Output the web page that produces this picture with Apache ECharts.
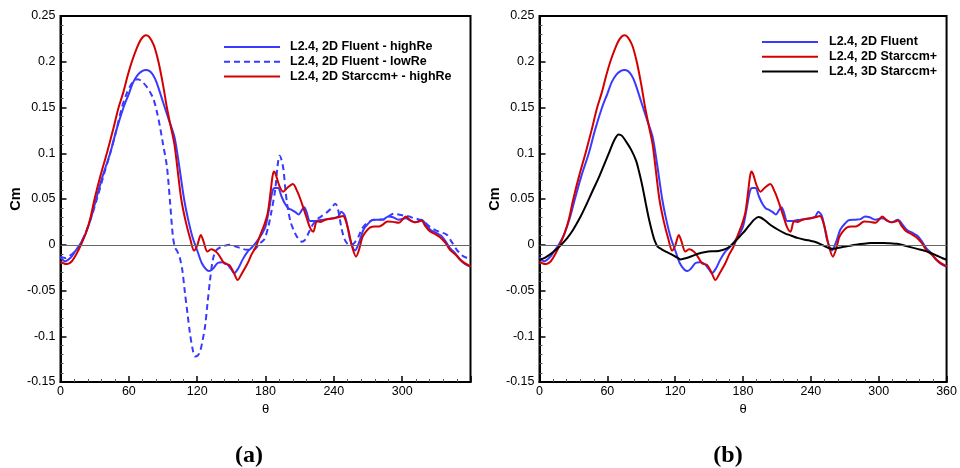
<!DOCTYPE html>
<html>
<head>
<meta charset="utf-8">
<script src="https://cdn.jsdelivr.net/npm/echarts@6/dist/echarts.min.js"></script>
<style>
html,body{margin:0;padding:0;background:#fff;}
#c{width:960px;height:468px;}
</style>
</head>
<body>
<div id="c"></div>
<script>
// ---- tick labels ----
var xTicks = [0, 60, 120, 180, 240, 300, 360];
var yTicks = [-0.15, -0.1, -0.05, 0, 0.05, 0.1, 0.15, 0.2, 0.25];

// ---- legend names ----
var namesA = ['L2.4, 2D Fluent - highRe', 'L2.4, 2D Fluent - lowRe', 'L2.4, 2D Starccm+ - highRe'];
var namesB = ['L2.4, 2D Fluent', 'L2.4, 2D Starccm+', 'L2.4, 3D Starccm+'];

// ---- series values [theta, Cm] ----
var fluentHigh = [[0,-0.0135],[4,-0.018],[9,-0.014],[13,-0.007],[17,0],[22,0.012],[27,0.03],[31.3,0.05],[37,0.075],[43.6,0.1],[49,0.125],[55.3,0.15],[60,0.165],[64,0.178],[68,0.186],[72,0.19],[75,0.191],[78,0.19],[81,0.186],[84.5,0.177],[90,0.156],[95,0.137],[100,0.118],[104,0.088],[108.5,0.05],[112,0.028],[116,0.008],[120,-0.006],[124,-0.02],[128,-0.027],[131,-0.0288],[134,-0.026],[138,-0.02],[142,-0.019],[146,-0.021],[150,-0.027],[152.5,-0.031],[156,-0.026],[160,-0.016],[164,-0.008],[168,-0.003],[172,0.003],[176,0.01],[180,0.02],[183,0.038],[186,0.058],[188,0.062],[191,0.062],[194,0.053],[197,0.045],[200,0.04],[203,0.038],[206,0.036],[209,0.033],[212,0.038],[214,0.041],[216,0.036],[219,0.026],[223,0.026],[228,0.027],[234,0.028],[240,0.029],[244,0.031],[246.5,0.036],[249.5,0.032],[252,0.02],[254.3,0.0055],[258.7,-0.0062],[262,0.002],[266,0.0164],[270,0.023],[274,0.027],[280,0.0274],[284,0.028],[288,0.031],[292,0.03],[297,0.0274],[303,0.029],[308,0.026],[311.5,0.0245],[317,0.0274],[321,0.022],[325,0.016],[330,0.013],[334,0.01],[338,0.004],[342,-0.0036],[347,-0.01],[351,-0.0164],[355,-0.021],[360,-0.024]];

var fluentLow = [[0,-0.0128],[4,-0.0146],[8,-0.012],[12,-0.008],[17,0],[22,0.013],[27,0.03],[32,0.05],[37,0.072],[43.6,0.1],[48,0.12],[53.9,0.15],[58,0.165],[62,0.175],[65,0.18],[68,0.181],[71,0.179],[75.8,0.1726],[79,0.166],[81.7,0.159],[84.5,0.146],[87.5,0.128],[90,0.11],[93.4,0.0858],[96.3,0.045],[98.6,0.01],[100.5,-0.003],[102.5,-0.007],[104.9,-0.015],[107,-0.028],[109.3,-0.053],[111.5,-0.075],[113.7,-0.097],[116,-0.114],[118.1,-0.122],[120.5,-0.121],[122.5,-0.117],[124.7,-0.105],[126.9,-0.0896],[129,-0.065],[131.3,-0.0386],[134,-0.015],[137.1,-0.0057],[142,-0.002],[148.8,0],[154,-0.002],[158,-0.0036],[163.5,-0.0055],[169.5,-0.0055],[175.2,0.0017],[179,0.006],[182.5,0.02],[185,0.035],[188.5,0.06],[190.5,0.085],[192.3,0.0974],[194,0.093],[195.8,0.082],[197.5,0.06],[199.3,0.042],[202,0.025],[204.6,0.0164],[208,0.008],[211.8,0.0034],[214.5,0.005],[217.8,0.0128],[221,0.021],[225,0.0274],[229,0.031],[233.9,0.0354],[238,0.04],[241.2,0.0449],[243,0.042],[245,0.03],[247,0.0164],[249.5,0.006],[252,0.001],[254.2,0],[257.3,0.001],[261.7,0.009],[264,0.016],[267.5,0.0219],[271,0.025],[274.8,0.0274],[283.6,0.0274],[288,0.031],[292.4,0.034],[297,0.033],[301.2,0.0318],[306,0.031],[310,0.029],[314,0.028],[318.8,0.0255],[323,0.021],[327.5,0.0172],[333,0.014],[339.2,0.011],[344,0.002],[348,-0.0055],[352,-0.011],[356,-0.014],[360,-0.0146]];

var starHigh = [[0,-0.018],[3,-0.0205],[6,-0.021],[10,-0.018],[14,-0.01],[18,0],[22,0.012],[26,0.028],[29.9,0.05],[35,0.075],[40.7,0.1],[46,0.125],[51,0.15],[55,0.166],[59,0.185],[62.6,0.2],[67,0.215],[71,0.225],[75,0.229],[78,0.227],[82,0.218],[86,0.2],[90,0.175],[93.4,0.15],[97,0.128],[100,0.11],[103,0.08],[106,0.05],[110,0.025],[114,0.006],[117.3,-0.0064],[120,-0.001],[123.2,0.0107],[125.5,0.004],[129,-0.0075],[132.2,-0.005],[138,-0.0094],[143.8,-0.0203],[148.2,-0.022],[152,-0.03],[155.6,-0.0385],[159,-0.032],[164.3,-0.0203],[168,-0.01],[171.6,-0.002],[176,0.0125],[179,0.022],[182,0.035],[184.5,0.058],[186.2,0.075],[187.5,0.08],[189,0.077],[192,0.065],[195.5,0.058],[199,0.062],[204,0.0665],[208,0.058],[212,0.045],[216,0.03],[219,0.019],[222,0.0143],[225,0.0255],[228,0.025],[232,0.027],[236,0.0285],[240,0.029],[244,0.03],[248,0.0314],[250,0.028],[253,0.015],[256,-0.002],[259.5,-0.013],[262,-0.006],[265,0.008],[268,0.014],[272,0.019],[276,0.02],[280,0.02],[283,0.022],[287,0.0255],[292,0.025],[297,0.024],[300,0.027],[303,0.031],[307,0.027],[311,0.0245],[314,0.025],[317,0.0266],[320,0.021],[324,0.015],[329,0.0115],[333,0.0084],[338,0.002],[342,-0.0055],[347,-0.011],[351,-0.0164],[355,-0.02],[360,-0.0237]];

var star3D = [[0,-0.0164],[5,-0.014],[10,-0.01],[15,-0.005],[20,0.001],[25,0.008],[30,0.017],[36,0.03],[41.5,0.044],[47,0.059],[53,0.075],[58,0.09],[62,0.102],[66,0.114],[70,0.1204],[73,0.119],[77,0.112],[81,0.104],[85.4,0.092],[88,0.08],[91,0.064],[94,0.045],[97,0.027],[100,0.012],[102,0.004],[104.4,-0.002],[108,-0.005],[111.7,-0.0075],[117.5,-0.011],[121,-0.0135],[124.9,-0.016],[130,-0.0145],[135,-0.0123],[141,-0.0095],[146.8,-0.008],[152,-0.0072],[158.5,-0.0068],[162,-0.0058],[165.7,-0.004],[169,-0.001],[173,0.0034],[177,0.009],[181.9,0.0156],[186,0.022],[189.5,0.027],[193.6,0.0303],[196,0.0295],[199.5,0.0265],[205,0.021],[211,0.0164],[217,0.0125],[222.8,0.0099],[228,0.0075],[234.5,0.0055],[240,0.0042],[244,0.003],[248,0.001],[252,-0.0015],[256,-0.0038],[259,-0.0044],[263.8,-0.0036],[268,-0.0025],[272.6,-0.0015],[277,-0.0005],[281.3,0.0004],[287,0.0012],[293,0.0018],[299,0.002],[304.7,0.002],[310,0.0016],[316.4,0.0011],[322,-0.0005],[328,-0.0026],[334,-0.0045],[339.8,-0.0062],[345,-0.0085],[351.5,-0.012],[356,-0.0145],[360,-0.0164]];

// ---- styling ----
var FONT = '"Liberation Sans", Arial, Helvetica, sans-serif';
var SERIF = '"Liberation Serif","DejaVu Serif",serif';
var BLUE = '#3a3aff';
var RED = '#d40000';
var BLACK = '#000000';

function fmtY(v){ return String(Math.round(v*100)/100); }

function xAxis(gi, hideLast){
  return {
    type:'value', gridIndex:gi, min:xTicks[0], max:xTicks[xTicks.length-1],
    interval:xTicks[1]-xTicks[0],
    name:'θ', nameLocation:'middle', nameGap:16,
    nameTextStyle:{fontFamily:FONT, fontSize:13, color:'#000'},
    axisLine:{show:true, onZero:false, lineStyle:{color:'#000', width:2}},
    axisTick:{show:true, inside:true, length:6, lineStyle:{color:'#000', width:1.5}},
    minorTick:{show:true, splitNumber:5, length:3, lineStyle:{color:'#555', width:1}},
    axisLabel:{margin:3, fontFamily:FONT, fontSize:12.5, color:'#000', showMaxLabel:!hideLast},
    splitLine:{show:false}
  };
}
function yAxis(gi){
  return {
    type:'value', gridIndex:gi, min:yTicks[0], max:yTicks[yTicks.length-1],
    interval:0.05,
    name:'Cm', nameLocation:'middle', nameGap:34, nameRotate:90,
    nameTextStyle:{fontFamily:FONT, fontSize:14.5, fontWeight:'bold', color:'#000'},
    axisLine:{show:true, onZero:false, lineStyle:{color:'#000', width:2}},
    axisTick:{show:true, inside:true, length:6, lineStyle:{color:'#000', width:1.5}},
    minorTick:{show:true, splitNumber:5, length:3, lineStyle:{color:'#555', width:1}},
    axisLabel:{margin:5, fontFamily:FONT, fontSize:12.5, color:'#000', formatter:fmtY},
    splitLine:{show:false}
  };
}
function zeroLine(){
  return {silent:true, symbol:'none', label:{show:false},
    lineStyle:{color:'#666', width:1, type:'solid'}, data:[{yAxis:0}], animation:false};
}
function line(name, data, color, gi, dashed, withZero){
  var s = {
    name:name, type:'line', xAxisIndex:gi, yAxisIndex:gi, data:data,
    showSymbol:false, symbol:'none', smooth:0.3, animation:false,
    lineStyle:{color:color, width:2, type: dashed ? [6,4] : 'solid'},
    itemStyle:{color:color}
  };
  if (withZero) s.markLine = zeroLine();
  return s;
}
function legend(names, left, top, gap){
  return {data:names, orient:'vertical', left:left, top:top, padding:0,
    itemWidth:56, itemHeight:14, itemGap:1.8,
    itemStyle:{opacity:0},
    textStyle:{fontFamily:FONT, fontSize:12.5, fontWeight:'bold', color:'#000', padding:[0,0,0,gap]},
    selectedMode:false};
}
function caption(letter, x){
  return {text:'{p|(}{b|' + letter + '}{p|)}', left:x, top:439, textAlign:'center',
    textStyle:{rich:{p:{fontFamily:SERIF, fontSize:24, color:'#000'},
                     b:{fontFamily:SERIF, fontSize:24, fontWeight:'bold', color:'#000'}}}};
}

var chart = echarts.init(document.getElementById('c'), null, {renderer:'canvas'});
chart.setOption({
  backgroundColor:'#fff',
  animation:false,
  grid:[
    {left:60.5, top:16, width:410, height:366, show:true, borderColor:'#000', borderWidth:2, backgroundColor:'transparent'},
    {left:539.5, top:16, width:410, height:366, show:true, borderColor:'#000', borderWidth:2, backgroundColor:'transparent'}
  ],
  xAxis:[xAxis(0,true), xAxis(1,false)],
  yAxis:[yAxis(0), yAxis(1)],
  legend:[legend(namesA, 223, 40.5, 5), legend(namesB, 761, 35.5, 6)],
  title:[caption('a', 244), caption('b', 723)],
  series:[
    line(namesA[0], fluentHigh, BLUE, 0, false, true),
    line(namesA[1], fluentLow, BLUE, 0, true, false),
    line(namesA[2], starHigh, RED, 0, false, false),
    line(namesB[0], fluentHigh, BLUE, 1, false, true),
    line(namesB[1], starHigh, RED, 1, false, false),
    line(namesB[2], star3D, BLACK, 1, false, false)
  ]
});
</script>
</body>
</html>
